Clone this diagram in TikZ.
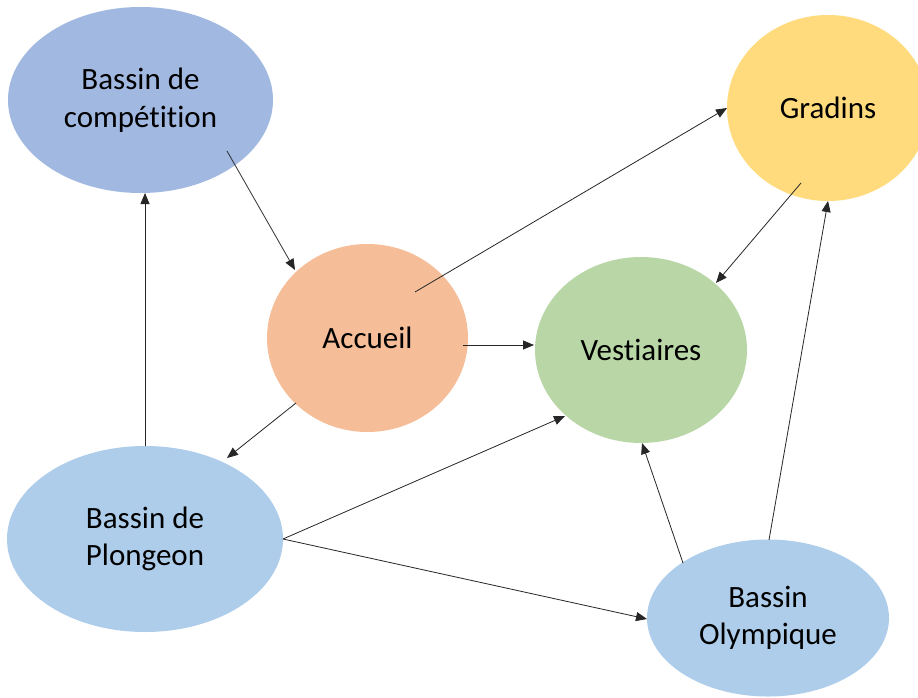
\documentclass[tikz,border=0pt]{standalone}
\usepackage{fontspec}
\setmainfont{Carlito}[RawFeature={-liga}]
\usetikzlibrary{shapes.geometric,arrows.meta,calc}
\definecolor{compc}{HTML}{A1B8E1}
\definecolor{gradc}{HTML}{FFDB7D}
\definecolor{accc}{HTML}{F5BE98}
\definecolor{vestc}{HTML}{B9D7A6}
\definecolor{bluec}{HTML}{AECDEA}
\tikzset{
  blob/.style={ellipse, inner sep=0pt, draw=none, align=center,
    font=\fontsize{31}{37.5}\selectfont, text=black},
  conn/.style={draw=black!85, line width=0.8pt,
    -{Triangle[length=11pt,width=9pt]}},
}
\begin{document}
\begin{tikzpicture}[x=1pt,y=-1pt]
\useasboundingbox (0,0) rectangle (918,698);
\clip (0,0) rectangle (918,698);
\fill[white] (0,0) rectangle (918,698);
\node[blob, fill=compc, minimum width=265pt, minimum height=186pt] (comp) at (140.5,100) {Bassin de\\compétition};
\node[blob, fill=gradc, minimum width=202pt, minimum height=186pt] (grad) at (828,108) {Gradins};
\node[blob, fill=accc, minimum width=201pt, minimum height=188pt] (acc) at (367.5,338) {Accueil};
\node[blob, fill=vestc, minimum width=212pt, minimum height=186pt] (vest) at (641,350) {Vestiaires};
\node[blob, fill=bluec, minimum width=276pt, minimum height=186pt] (plong) at (145,539) {Bassin de\\Plongeon};
\node[blob, fill=bluec, minimum width=242pt, minimum height=157pt] (olymp) at (768,618) {Bassin\\Olympique};

\draw[conn] ($(comp.center)+(86.5,51)$) -- ($(acc.center)+(-72.5,-68)$);
\draw[conn] ($(acc.center)+(47.5,-46)$) -- ($(grad.center)+(-101,0)$);
\draw[conn] ($(acc.center)+(95.5,7)$) -- ($(vest.center)+(-107,-5)$);
\draw[conn] ($(grad.center)+(-27,75)$) -- ($(vest.center)+(75,-67)$);
\draw[conn] ($(acc.center)+(-71.5,65)$) -- ($(plong.center)+(82,-81)$);
\draw[conn] ($(plong.center)+(0,-93)$) -- ($(comp.center)+(4.5,93)$);
\draw[conn] ($(plong.center)+(138,0)$) -- ($(vest.center)+(-76,66)$);
\draw[conn] ($(plong.center)+(138,0)$) -- ($(olymp.center)+(-121,1)$);
\draw[conn] ($(olymp.center)+(-85,-55)$) -- ($(vest.center)+(1,93)$);
\draw[conn] ($(olymp.center)+(1,-78)$) -- ($(grad.center)+(0,93)$);
\end{tikzpicture}
\end{document}
